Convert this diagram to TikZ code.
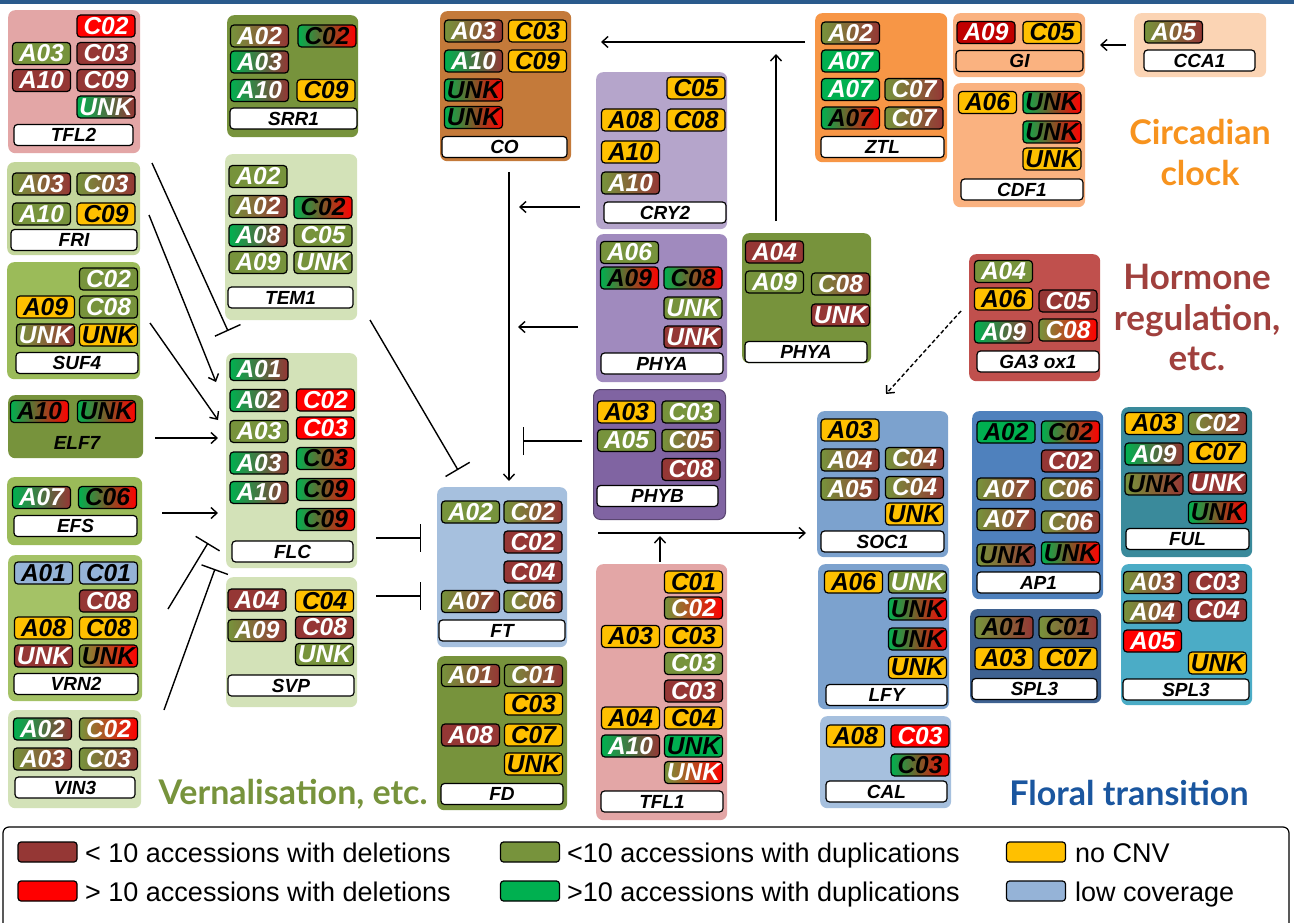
\documentclass[tikz,border=0pt]{standalone}
\usepackage{fontspec}
\setmainfont{Liberation Sans}
\newfontfamily\headfont{Lato}
\usetikzlibrary{arrows.meta}

% CNV state colours
\definecolor{cbrown}{HTML}{953735}
\definecolor{cred}{HTML}{FF0000}
\definecolor{cdred}{HTML}{C00000}
\definecolor{colive}{HTML}{77933C}
\definecolor{cgreen}{HTML}{00B050}
\definecolor{cyellow}{HTML}{FFC000}
\definecolor{clblue}{HTML}{95B3D7}
% group backgrounds
\definecolor{gpink}{HTML}{E3A6A6}
\definecolor{gpale}{HTML}{D3E2B8}
\definecolor{gfri}{HTML}{C3D69B}
\definecolor{gmid}{HTML}{9BBB59}
\definecolor{gvrn}{HTML}{A4C266}
\definecolor{golive}{HTML}{77933C}
\definecolor{gco}{HTML}{C47A3A}
\definecolor{gcry}{HTML}{B5A5CB}
\definecolor{gphya}{HTML}{A08ABE}
\definecolor{gphyb}{HTML}{8064A2}
\definecolor{gft}{HTML}{A6C0DE}
\definecolor{gztl}{HTML}{F79646}
\definecolor{ggi}{HTML}{FAB280}
\definecolor{gcca}{HTML}{FBD4B4}
\definecolor{gga}{HTML}{C0504D}
\definecolor{gsoc}{HTML}{7CA2CE}
\definecolor{gap}{HTML}{4F81BD}
\definecolor{gspla}{HTML}{3F6291}
\definecolor{gful}{HTML}{3A8A9B}
\definecolor{gsplb}{HTML}{4BACC6}
% headings
\definecolor{hclock}{HTML}{F7931E}
\definecolor{hhorm}{HTML}{A0403D}
\definecolor{hvern}{HTML}{77933C}
\definecolor{hflor}{HTML}{1A569F}
\definecolor{topbar}{HTML}{2A5A8C}

\newcommand\chipfont{\fontsize{24.5}{24.5}\selectfont\bfseries\itshape}
\newcommand\namefont{\fontsize{19}{19}\selectfont\bfseries\itshape}

\tikzset{
  grp/.style={rounded corners=7pt,draw=none,inner sep=0pt},
  chip/.style={draw=black,line width=1.2pt,rounded corners=3.5pt,minimum width=58pt,
    minimum height=22pt,inner sep=0pt,font=\chipfont,text=white},
  namebox/.style={draw=black,line width=1.2pt,fill=white,rounded corners=3.5pt,
    minimum height=21pt,inner sep=0pt,font=\namefont},
  cB/.style={fill=cbrown},
  cR/.style={fill=cred},
  cDR/.style={fill=cdred},
  cO/.style={fill=colive},
  cG/.style={fill=cgreen},
  cGk/.style={fill=cgreen,text=black},
  cY/.style={fill=cyellow,text=black},
  cL/.style={fill=clblue,text=black},
  cOB/.style={left color=colive,right color=cbrown},
  cOBk/.style={left color=colive,right color=cbrown,text=black},
  cGB/.style={left color=cgreen,right color=cbrown},
  cGR/.style={left color=cgreen,right color=cred,text=black},
  cOR/.style={left color=colive,right color=cred},
  cORk/.style={left color=colive,right color=cred,text=black},
  arr/.style={line width=1.4pt,-{Straight Barb[length=6pt,width=11pt]}},
  inh/.style={line width=1.4pt,-{Bar[width=28pt]}},
  legsw/.style={draw=black,line width=1.2pt,rounded corners=3pt,minimum width=59pt,
    minimum height=20pt,inner sep=0pt},
  legtxt/.style={anchor=base west,inner sep=0pt,font=\fontsize{27}{27}\selectfont},
}

\newcounter{chipno}
% chip: centre x, centre y, state style, label
\newcommand\chip[4]{\stepcounter{chipno}\node[chip,#3] (chip\arabic{chipno}) at (#1,#2) {#4};}
% gene label: name, centre x, centre y, width, text
\newcommand\gname[5]{\node[namebox,minimum width=#4] (#1) at (#2,#3) {#5};}
% group box: name, left, top, right, bottom, colour
\newcommand\grp[6]{\node[grp,fill=#6,anchor=north west,minimum width={#4-#2},minimum height={#5-#3}] (#1) at (#2,#3) {};}

\begin{document}
\begin{tikzpicture}[x=1pt,y=-1pt]
\useasboundingbox (0,0) rectangle (1294,923);
\clip (0,0) rectangle (1294,923);
\fill[white] (0,0) rectangle (1294,923);
\fill[topbar] (0,0) rectangle (1294,4);

% ---------------- vernalisation column ----------------
\grp{tfl2}{8}{10}{140}{153}{gpink}
\chip{106}{26}{cR}{C02}
\chip{41.5}{53.5}{cO}{A03}
\chip{106}{53.5}{cB}{C03}
\chip{41.5}{80.5}{cB}{A10}
\chip{106}{80.5}{cB}{C09}
\chip{106}{107}{cGB}{UNK}
\gname{tfl2-n}{73.5}{135}{119}{TFL2}

\grp{fri}{7}{162}{140}{255}{gfri}
\chip{41.5}{184}{cOB}{A03}
\chip{106}{184}{cOB}{C03}
\chip{41.5}{214}{cO}{A10}
\chip{106}{214}{cY}{C09}
\gname{fri-n}{74}{240}{126}{FRI}

\grp{suf4}{7}{262}{140}{379}{gmid}
\chip{108.5}{279}{cO}{C02}
\chip{45.5}{307}{cY}{A09}
\chip{108.5}{307}{cO}{C08}
\chip{45.5}{335}{cOB}{UNK}
\chip{108.5}{335}{cY}{UNK}
\gname{suf4-n}{77}{363}{122}{SUF4}

\grp{elf7}{8}{395}{143}{458}{golive}
\chip{39.5}{411.5}{cGR}{A10}
\chip{106.5}{411.5}{cGR}{UNK}
\node[font=\namefont,inner sep=0pt] (elf7-n) at (77,443) {ELF7};

\grp{efs}{7}{477}{142}{545}{gmid}
\chip{41.5}{497.5}{cGB}{A07}
\chip{107.5}{497.5}{cGR}{C06}
\gname{efs-n}{75.5}{526}{123}{EFS}

\grp{vrn2}{8}{555}{142}{701}{gvrn}
\chip{43.5}{573}{cL}{A01}
\chip{108.5}{573}{cL}{C01}
\chip{108.5}{601}{cB}{C08}
\chip{43.5}{628}{cY}{A08}
\chip{108.5}{628}{cY}{C08}
\chip{43.5}{656}{cB}{UNK}
\chip{108.5}{656}{cORk}{UNK}
\gname{vrn2-n}{76}{684}{124}{VRN2}

\grp{vin3}{8}{710}{141}{808}{gpale}
\chip{42.5}{729}{cGB}{A02}
\chip{108.5}{729}{cOR}{C02}
\chip{42.5}{759}{cOB}{A03}
\chip{108.5}{759}{cOB}{C03}
\gname{vin3-n}{75}{787.5}{120}{VIN3}

% ---------------- second column ----------------
\grp{srr1}{227}{15}{358}{137}{golive}
\chip{259.5}{36}{cOB}{A02}
\chip{327}{36}{cGR}{C02}
\chip{259.5}{62}{cGB}{A03}
\chip{259.5}{90.5}{cGB}{A10}
\chip{326}{90.5}{cY}{C09}
\gname{srr1-n}{293.5}{118.5}{127}{SRR1}

\grp{tem1}{225}{154}{357}{320}{gpale}
\chip{258}{176.5}{cO}{A02}
\chip{258}{206.5}{cOB}{A02}
\chip{323}{207.5}{cGR}{C02}
\chip{258}{235.5}{cGB}{A08}
\chip{323}{235.5}{cO}{C05}
\chip{258}{262.5}{cO}{A09}
\chip{323}{262.5}{cO}{UNK}
\gname{tem1-n}{290.5}{297.5}{125}{TEM1}

\grp{flc}{226}{353}{357}{568}{gpale}
\chip{259}{369.5}{cGB}{A01}
\chip{259}{400.5}{cGB}{A02}
\chip{325.5}{400}{cR}{C02}
\chip{259}{431.5}{cO}{A03}
\chip{325.5}{428}{cR}{C03}
\chip{259}{463}{cGB}{A03}
\chip{325.5}{458.5}{cGR}{C03}
\chip{259}{492.5}{cGB}{A10}
\chip{325.5}{489.5}{cGR}{C09}
\chip{325.5}{519.5}{cGR}{C09}
\gname{flc-n}{292.5}{551.5}{121}{FLC}

\grp{svp}{226}{577}{357}{707}{gpale}
\chip{257}{600}{cB}{A04}
\chip{324.5}{601}{cY}{C04}
\chip{257}{630.5}{cOB}{A09}
\chip{324.5}{627.5}{cB}{C08}
\chip{324.5}{654.5}{cO}{UNK}
\gname{svp-n}{291}{685.5}{126}{SVP}

% ---------------- central column ----------------
\grp{co}{440}{11}{571}{161}{gco}
\chip{473.5}{31}{cOB}{A03}
\chip{537.5}{31}{cY}{C03}
\chip{473.5}{61}{cGB}{A10}
\chip{537.5}{61}{cY}{C09}
\chip{473.5}{90}{cGR}{UNK}
\chip{473.5}{117.5}{cGR}{UNK}
\gname{co-n}{504.5}{147}{125}{CO}

\grp{ft}{437}{487}{567}{647}{gft}
\chip{470.5}{512}{cO}{A02}
\chip{533}{512}{cOB}{C02}
\chip{533}{542}{cB}{C02}
\chip{533}{572}{cB}{C04}
\chip{470.5}{601.5}{cOB}{A07}
\chip{533}{601.5}{cOB}{C06}
\gname{ft-n}{502}{630.5}{126}{FT}

\grp{fd}{437}{656}{567}{810}{golive}
\chip{470.5}{675.5}{cOB}{A01}
\chip{533.5}{675.5}{cOB}{C01}
\chip{533.5}{704}{cY}{C03}
\chip{470.5}{735}{cB}{A08}
\chip{533.5}{735}{cY}{C07}
\chip{533.5}{764}{cY}{UNK}
\gname{fd-n}{502}{794}{122}{FD}

% ---------------- photoreceptors ----------------
\grp{cry2}{596}{72}{727}{229}{gcry}
\chip{696}{88}{cY}{C05}
\chip{630.5}{120}{cY}{A08}
\chip{696}{120}{cY}{C08}
\chip{630.5}{152}{cY}{A10}
\chip{630.5}{183}{cOB}{A10}
\gname{cry2-n}{665}{212.5}{122}{CRY2}

\grp{phya}{596}{234}{727}{382}{gphya}
\chip{629.5}{252.5}{cO}{A06}
\chip{629.5}{278}{cGR}{A09}
\chip{693}{278}{cGR}{C08}
\chip{693}{308}{cO}{UNK}
\chip{693}{337}{cB}{UNK}
\gname{phya-n}{662}{363.5}{122}{PHYA}

\node[grp,fill=gphyb,draw=gphyb!70!black,line width=1pt,anchor=north west,
  minimum width=132,minimum height=130] (phyb) at (593,389) {};
\chip{626.5}{412}{cY}{A03}
\chip{691}{412}{cO}{C03}
\chip{626.5}{440.5}{cO}{A05}
\chip{691}{440.5}{cOB}{C05}
\chip{691}{469.5}{cB}{C08}
\gname{phyb-n}{657.5}{496}{121}{PHYB}

\grp{tfl1}{596}{564}{727}{820}{gpink}
\chip{693.5}{582}{cY}{C01}
\chip{693.5}{608}{cOR}{C02}
\chip{630.5}{636.5}{cY}{A03}
\chip{693.5}{636.5}{cY}{C03}
\chip{693.5}{663.5}{cO}{C03}
\chip{693.5}{691}{cB}{C03}
\chip{630.5}{718}{cY}{A04}
\chip{693.5}{718}{cY}{C04}
\chip{630.5}{746}{cGB}{A10}
\chip{693.5}{746}{cGk}{UNK}
\chip{693.5}{772.5}{cOR}{UNK}
\gname{tfl1-n}{662}{801.5}{122}{TFL1}

\grp{phyao}{742}{233}{871}{363}{golive}
\chip{774.5}{252}{cB}{A04}
\chip{774.5}{282}{cO}{A09}
\chip{840.5}{284}{cOB}{C08}
\chip{840.5}{315}{cB}{UNK}
\gname{phyao-n}{806}{352}{122}{PHYA}

% ---------------- circadian clock ----------------
\grp{ztl}{815}{13}{947}{162}{gztl}
\chip{850.5}{33}{cOB}{A02}
\chip{850.5}{61}{cG}{A07}
\chip{850.5}{89.5}{cG}{A07}
\chip{914}{89.5}{cOB}{C07}
\chip{850.5}{118}{cGR}{A07}
\chip{914}{118}{cOB}{C07}
\gname{ztl-n}{882.5}{147}{123}{ZTL}

\grp{gi}{953}{13}{1085}{77}{ggi}
\chip{986}{32.5}{cDR}{A09}
\chip{1052}{32.5}{cY}{C05}
\node[namebox,fill=ggi,minimum width=127] (gi-n) at (1019.5,61) {GI};

\grp{cca1}{1134}{13}{1266}{77}{gcca}
\chip{1173.5}{32}{cOB}{A05}
\gname{cca1-n}{1199.5}{60.5}{111}{CCA1}

\grp{cdf1}{953}{83}{1085}{207}{ggi}
\chip{987.5}{102.5}{cY}{A06}
\chip{1052}{102.5}{cGR}{UNK}
\chip{1052}{132}{cGR}{UNK}
\chip{1052}{159}{cY}{UNK}
\gname{cdf1-n}{1022}{189.5}{122}{CDF1}

% ---------------- hormone regulation ----------------
\grp{ga3}{969}{254}{1100}{381}{gga}
\chip{1003.5}{271.5}{cO}{A04}
\chip{1003.5}{299}{cY}{A06}
\chip{1068}{301}{cB}{C05}
\chip{1003.5}{332}{cGB}{A09}
\chip{1068}{330}{cOR}{C08}
\gname{ga3-n}{1038}{361.5}{122}{GA3 ox1}

% ---------------- floral transition ----------------
\grp{soc1}{817}{411}{948}{557}{gsoc}
\chip{850}{430}{cY}{A03}
\chip{850}{460}{cOB}{A04}
\chip{914.5}{458.5}{cOB}{C04}
\chip{850}{489}{cOB}{A05}
\chip{914.5}{487.5}{cOB}{C04}
\chip{914.5}{514}{cY}{UNK}
\gname{soc1-n}{882.5}{541.5}{123}{SOC1}

\grp{lfy}{818}{564}{949}{709}{gsoc}
\chip{853.5}{582}{cY}{A06}
\chip{917.5}{582}{cO}{UNK}
\chip{917.5}{609}{cGR}{UNK}
\chip{917.5}{639}{cGR}{UNK}
\chip{917.5}{667.5}{cY}{UNK}
\gname{lfy-n}{886.5}{695}{121}{LFY}

\grp{cal}{820}{716}{951}{808}{gft}
\chip{855.5}{736}{cY}{A08}
\chip{920}{736}{cR}{C03}
\chip{920}{765}{cGR}{C03}
\gname{cal-n}{886.5}{791.5}{121}{CAL}

\grp{ap1}{972}{411}{1103}{599}{gap}
\chip{1006}{432}{cGk}{A02}
\chip{1070.5}{432}{cGR}{C02}
\chip{1070.5}{461}{cB}{C02}
\chip{1006}{489}{cOB}{A07}
\chip{1070.5}{489}{cOB}{C06}
\chip{1006}{519.5}{cOB}{A07}
\chip{1070.5}{522}{cOB}{C06}
\chip{1006}{555}{cOBk}{UNK}
\chip{1070.5}{553}{cGR}{UNK}
\gname{ap1-n}{1038.5}{582.5}{123}{AP1}

\grp{spl3a}{970}{609}{1101}{703}{gspla}
\chip{1004}{627.5}{cOBk}{A01}
\chip{1068}{627.5}{cOBk}{C01}
\chip{1004}{658.5}{cY}{A03}
\chip{1068}{658.5}{cY}{C07}
\gname{spl3a-n}{1034.5}{689}{125}{SPL3}

\grp{ful}{1121}{407}{1252}{557}{gful}
\chip{1154}{423.5}{cY}{A03}
\chip{1217.5}{423.5}{cOB}{C02}
\chip{1154}{454}{cGB}{A09}
\chip{1217.5}{452.5}{cY}{C07}
\chip{1154}{484}{cOBk}{UNK}
\chip{1217.5}{483}{cB}{UNK}
\chip{1217.5}{512.5}{cGR}{UNK}
\gname{ful-n}{1187.5}{539}{123}{FUL}

\grp{spl3b}{1121}{564}{1252}{705}{gsplb}
\chip{1152.5}{582.5}{cOB}{A03}
\chip{1217.5}{582.5}{cB}{C03}
\chip{1152.5}{612}{cOB}{A04}
\chip{1217.5}{610}{cB}{C04}
\chip{1152.5}{641}{cR}{A05}
\chip{1217.5}{663}{cY}{UNK}
\gname{spl3b-n}{1186}{689.5}{126}{SPL3}

% ---------------- interactions ----------------
\coordinate (tfl2-o) at (152,163);  \coordinate (flc-t) at (228,331);
\coordinate (fri-o) at (149,215);   \coordinate (flc-a) at (216,382);
\coordinate (suf4-o) at (150,323);  \coordinate (flc-b) at (218,420);
\coordinate (elf7-o) at (155,438);  \coordinate (flc-c) at (218,438);
\coordinate (efs-o) at (162,513);   \coordinate (flc-d) at (218,513);
\coordinate (vrn2-o) at (168,609);  \coordinate (flc-e) at (208,543);
\coordinate (vin3-o) at (164,710);  \coordinate (flc-f) at (215,569);
\draw[inh] (tfl2-o) -- (flc-t);
\draw[arr] (fri-o) -- (flc-a);
\draw[arr] (suf4-o) -- (flc-b);
\draw[arr] (elf7-o) -- (flc-c);
\draw[arr] (efs-o) -- (flc-d);
\draw[inh] (vrn2-o) -- (flc-e);
\draw[inh] (vin3-o) -- (flc-f);

\coordinate (tem1-o) at (370,320);  \coordinate (ft-a) at (458,470);
\coordinate (flc-o) at (376,538);   \coordinate (ft-b) at (421,538);
\coordinate (svp-o) at (376,596);   \coordinate (ft-c) at (421,596);
\draw[inh] (tem1-o) -- (ft-a);
\draw[inh] (flc-o) -- (ft-b);
\draw[inh] (svp-o) -- (ft-c);

\coordinate (co-o) at (509,172);    \coordinate (ft-t) at (509,481);
\coordinate (cry2-o) at (580,207);  \coordinate (co-l1) at (519,207);
\coordinate (phya-o) at (578,327);  \coordinate (co-l2) at (518,327);
\coordinate (phyb-o) at (582,441);  \coordinate (co-l3) at (523,441);
\draw[arr] (co-o) -- (ft-t);
\draw[arr] (cry2-o) -- (co-l1);
\draw[arr] (phya-o) -- (co-l2);
\draw[inh] (phyb-o) -- (co-l3);

\coordinate (tfl1-o) at (660,562);  \coordinate (ft-line) at (660,536);
\coordinate (ft-o) at (598,533);    \coordinate (soc1-i) at (806,533);
\draw[arr] (tfl1-o) -- (ft-line);
\draw[arr] (ft-o) -- (soc1-i);

\coordinate (phyao-o) at (776,221); \coordinate (ztl-l) at (776,54);
\coordinate (ztl-o) at (805,42);    \coordinate (co-r) at (601,42);
\coordinate (cca1-o) at (1126,45);  \coordinate (gi-r) at (1100,45);
\draw[arr] (phyao-o) -- (ztl-l);
\draw[arr] (ztl-o) -- (co-r);
\draw[arr] (cca1-o) -- (gi-r);

\coordinate (ga3-o) at (961,311);   \coordinate (soc1-t) at (886,394);
\draw[arr,line width=1.4pt,dash pattern=on 4pt off 2.5pt] (ga3-o) -- (soc1-t);

% ---------------- headings ----------------
\node[font=\headfont\bfseries\fontsize{34}{41}\selectfont,text=hclock,align=center] (h-clock) at (1200,152) {Circadian\\clock};
\node[font=\headfont\bfseries\fontsize{35}{40.5}\selectfont,text=hhorm,align=center] (h-horm) at (1197,317.5) {Hormone\\regulation,\\etc.};
\node[font=\headfont\bfseries\fontsize{34}{34}\selectfont,text=hvern] (h-vern) at (293,794) {Vernalisation, etc.};
\node[font=\headfont\bfseries\fontsize{34}{34}\selectfont,text=hflor] (h-flor) at (1129,793) {Floral transition};

% ---------------- legend ----------------
\draw[line width=1.2pt,rounded corners=6pt] (3,827) rectangle (1289,950);
\node[legsw,fill=cbrown] (sw1) at (47.5,852) {};
\node[legtxt] (lt1) at (85,862) {< 10 accessions with deletions};
\node[legsw,fill=cred] (sw2) at (47.5,891) {};
\node[legtxt] (lt2) at (85,901) {> 10 accessions with deletions};
\node[legsw,fill=colive] (sw3) at (530,852) {};
\node[legtxt] (lt3) at (567,862) {<10 accessions with duplications};
\node[legsw,fill=cgreen] (sw4) at (530,891) {};
\node[legtxt] (lt4) at (567,901) {>10 accessions with duplications};
\node[legsw,fill=cyellow] (sw5) at (1036,852) {};
\node[legtxt] (lt5) at (1075,862) {no CNV};
\node[legsw,fill=clblue] (sw6) at (1036,891) {};
\node[legtxt] (lt6) at (1075,901) {low coverage};
\end{tikzpicture}
\end{document}
